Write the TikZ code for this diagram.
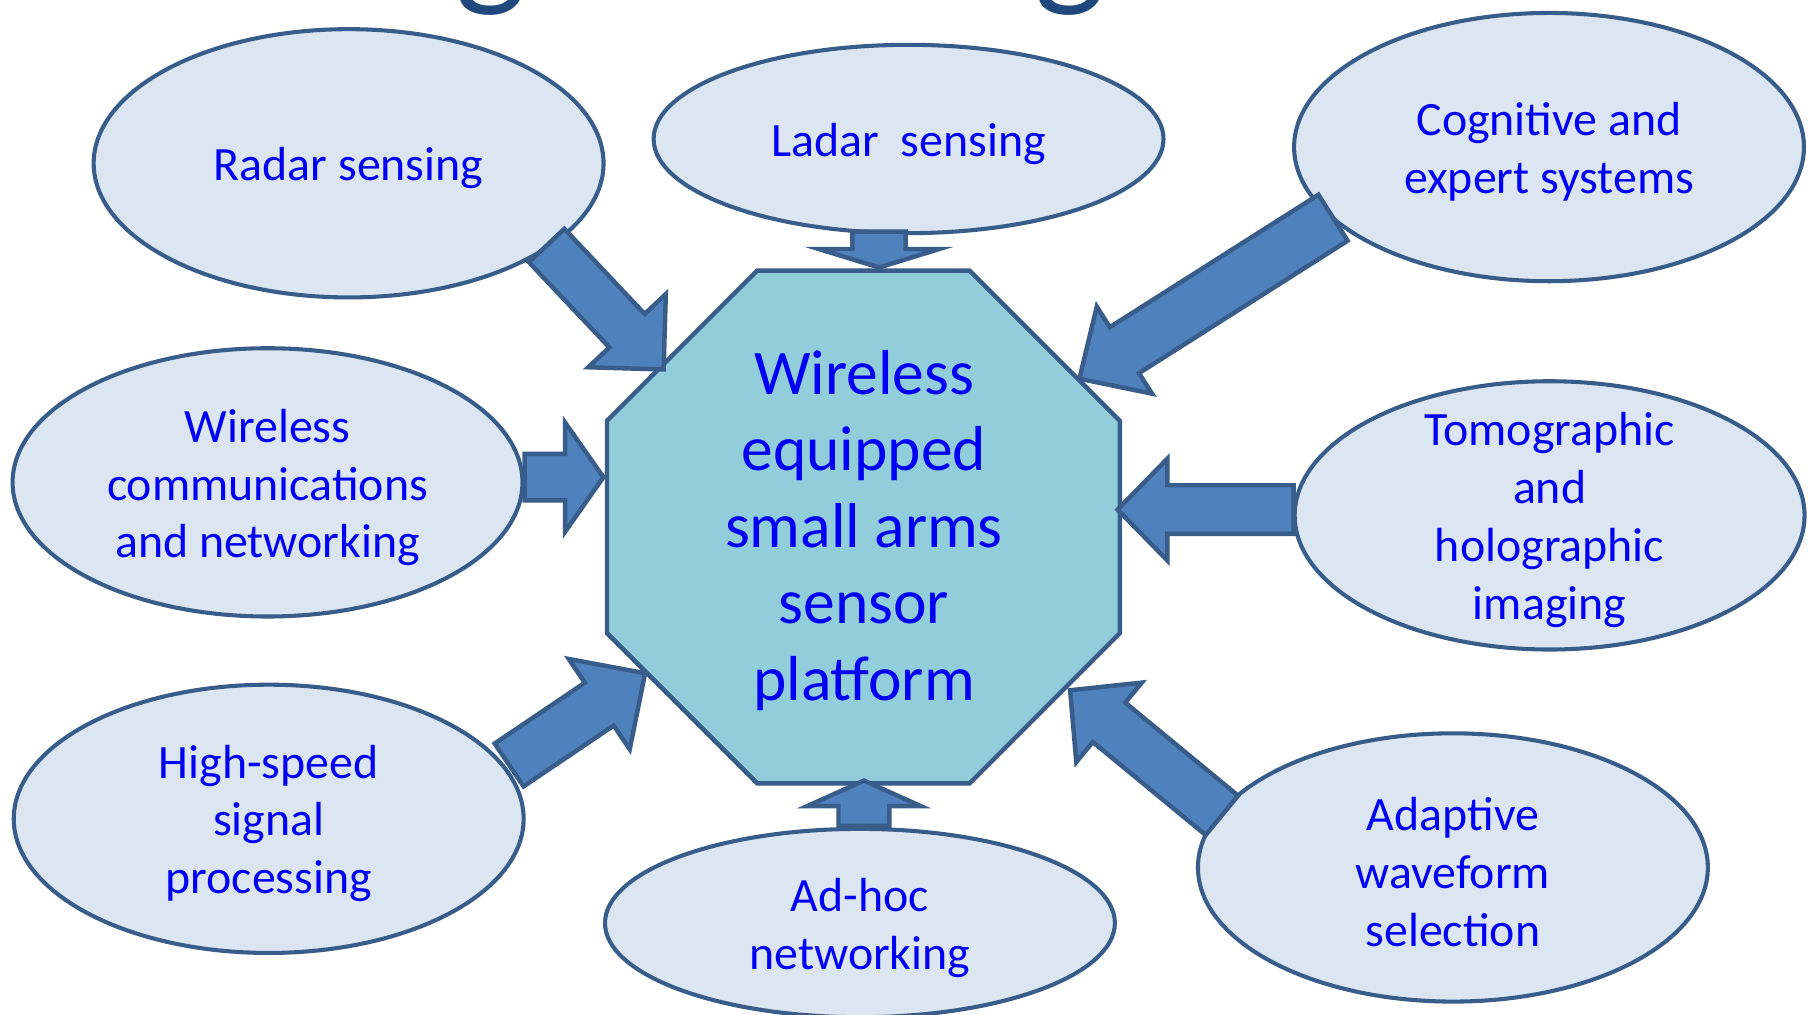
\documentclass[tikz,border=0pt]{standalone}
\usepackage{fontspec}
\setmainfont{Carlito}
\usetikzlibrary{shapes.geometric,calc}
\definecolor{ellfill}{HTML}{DCE6F2}
\definecolor{edgec}{HTML}{385D8A}
\definecolor{octfill}{HTML}{92CDDC}
\definecolor{arrfill}{HTML}{4F81BD}
\definecolor{txtc}{HTML}{0000F2}
\definecolor{titlec}{HTML}{1F497D}
% #1 name, #2 tail, #3 tip, #4 half shaft, #5 half head, #6 head length
\newcommand\blockarrow[6]{%
  \coordinate (#1-n) at ($(#3)!#6!(#2)$);
  \draw[barrow] ($(#2)!#4!90:(#3)$) -- ($(#1-n)!#4!90:(#3)$) -- ($(#1-n)!#5!90:(#3)$) -- (#3)
     -- ($(#1-n)!#5!-90:(#3)$) -- ($(#1-n)!#4!-90:(#3)$) -- ($(#2)!#4!-90:(#3)$) -- cycle;}
\begin{document}
\begin{tikzpicture}[x=0.01cm,y=-0.01cm,
  bubble/.style={ellipse, draw=edgec, fill=ellfill, line width=1pt,
    minimum width=4.40cm, minimum height=2.315cm, inner sep=0pt},
  flatbubble/.style={bubble, minimum height=1.625cm},
  btext/.style={align=center, text=txtc, inner sep=0pt,
    font=\fontsize{11.75pt}{14.2pt}\selectfont},
  hub/.style={regular polygon, regular polygon sides=8, draw=edgec, fill=octfill,
    line width=1.1pt, minimum size=4.79cm, inner sep=0pt},
  hubtext/.style={align=center, text=txtc, inner sep=0pt,
    font=\fontsize{15.6pt}{18.8pt}\selectfont},
  barrow/.style={draw=edgec, fill=arrfill, line width=1.1pt, line join=miter},
  titleg/.style={anchor=base, text=titlec, inner sep=0pt, font=\fontsize{37pt}{40pt}\selectfont}]
\useasboundingbox (0,0) rectangle (1568,876);
\clip (0,0) rectangle (1568,876);
\fill[white] (0,0) rectangle (1568,876);

% fragments of the cut-off title
\node[titleg] (g1) at (424,-9) {g};
\node[titleg] (g2) at (924,-9) {g};

% central platform
\node[hub] (hub) at (745.5,455) {};
\node[hubtext] (hubt) at (746,458) {Wireless\\equipped\\small arms\\sensor\\platform};

% surrounding ellipses
\node[bubble] (radar) at (301,141) {};
\node[flatbubble] (ladar) at (784.5,120) {};
\node[bubble] (cog) at (1337.5,127) {};
\node[bubble] (wcomm) at (231,416.5) {};
\node[bubble] (tomo) at (1338,445) {};
\node[bubble] (hsp) at (232,707) {};
\node[flatbubble] (adhoc) at (742.5,797) {};
\node[bubble] (adapt) at (1254.5,749) {};

\node[btext] (radar-t) at (301,145) {Radar sensing};
\node[btext] (ladar-t) at (784.5,124) {Ladar\ \ sensing};
\node[btext] (cog-t) at (1337.5,131) {Cognitive and\\expert systems};
\node[btext] (wcomm-t) at (231,421) {Wireless\\communications\\and networking};
\node[btext] (tomo-t) at (1338,449) {Tomographic\\and\\holographic\\imaging};
\node[btext] (hsp-t) at (232,711) {High-speed\\signal\\processing};
\node[btext] (adhoc-t) at (742.5,801) {Ad-hoc\\networking};
\node[btext] (adapt-t) at (1254.5,753) {Adaptive\\waveform\\selection};

% arrow end points
\coordinate (t1) at (472,212);   \coordinate (h1) at (573,319);
\coordinate (t2) at (759,200);   \coordinate (h2) at (759,231);
\coordinate (t3) at (1151,188);  \coordinate (h3) at (932,327);
\coordinate (t4) at (453,412);   \coordinate (h4) at (521,412);
\coordinate (t5) at (1117,440);  \coordinate (h5) at (965,440);
\coordinate (t6) at (439.6,660.5); \coordinate (h6) at (557,581.3);
\coordinate (t7) at (746,713);   \coordinate (h7) at (746,674);
\coordinate (t8) at (1055,704);  \coordinate (h8) at (924,596);

\blockarrow{a1}{t1}{h1}{0.21cm}{0.46cm}{0.46cm}
\blockarrow{a2}{t2}{h2}{0.23cm}{0.52cm}{0.16cm}
\blockarrow{a3}{t3}{h3}{0.235cm}{0.445cm}{0.46cm}
\blockarrow{a4}{t4}{h4}{0.20cm}{0.47cm}{0.33cm}
\blockarrow{a5}{t5}{h5}{0.21cm}{0.44cm}{0.43cm}
\blockarrow{a6}{t6}{h6}{0.223cm}{0.47cm}{0.477cm}
\blockarrow{a7}{t7}{h7}{0.22cm}{0.49cm}{0.22cm}
\blockarrow{a8}{t8}{h8}{0.22cm}{0.444cm}{0.435cm}
\end{tikzpicture}
\end{document}
